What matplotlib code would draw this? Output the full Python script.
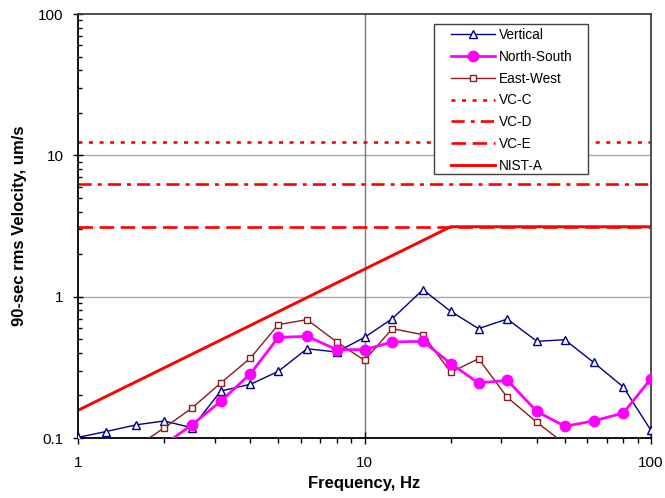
import numpy as np
import matplotlib
matplotlib.use("Agg")
import matplotlib.pyplot as plt
from matplotlib.patches import Rectangle
from matplotlib.ticker import LogLocator, FixedLocator, FixedFormatter, NullFormatter

plt.rcParams['font.family'] = ['Liberation Sans', 'DejaVu Sans']

freq = [1, 1.25, 1.6, 2, 2.5, 3.15, 4, 5, 6.3, 8, 10, 12.5, 16, 20, 25, 31.5, 40, 50, 63, 80, 100]
vertical = [0.101, 0.111, 0.124, 0.132, 0.118, 0.215, 0.24, 0.296, 0.428, 0.406, 0.515,
            0.699, 1.12, 0.787, 0.594, 0.695, 0.483, 0.496, 0.343, 0.23, 0.113]
north_south = [np.nan, np.nan, np.nan, 0.09, 0.124, 0.182, 0.285, 0.515, 0.524, 0.422, 0.422,
               0.478, 0.483, 0.336, 0.245, 0.256, 0.154, 0.121, 0.132, 0.150, 0.263]
east_west = [np.nan, np.nan, 0.087, 0.118, 0.163, 0.245, 0.368, 0.634, 0.688, 0.478, 0.354,
             0.594, 0.538, 0.291, 0.364, 0.194, 0.129, 0.091, np.nan, np.nan, np.nan]
vc_c = 12.5
vc_d = 6.25
vc_e = 3.125
nist_f = [1, 20, 100]
nist_v = [0.157, 3.125, 3.125]
x_ticks = [1, 10, 100]
x_tick_labels = ['1', '10', '100']
y_ticks = [0.1, 1, 10, 100]
y_tick_labels = ['0.1', '1', '10', '100']

W, H = 665, 498
fig = plt.figure(figsize=(W/100, H/100), dpi=100)
L, R, T, B = 78, 651, 14, 438
ax = fig.add_axes([L/W, 1-B/H, (R-L)/W, (B-T)/H])
ax.set_xscale('log')
ax.set_yscale('log')
ax.set_xlim(1, 100)
ax.set_ylim(0.1, 100)

# grid
for yv in [1, 10]:
    ax.axhline(yv, color='#a6a6a6', lw=1.0, zorder=0.5)
ax.axvline(10, color='#7a7a7a', lw=1.0, zorder=0.5)

ax.plot(freq, vertical, color='#000080', lw=1.0, marker='^', ms=6,
        mfc='white', mec='#000080', mew=1.0, label='Vertical', zorder=3)
ax.plot(freq, north_south, color='#FF00FF', lw=2.0, marker='o', ms=7.5,
        mfc='#FF00FF', mec='#FF00FF', label='North-South', zorder=4)
ax.plot(freq, east_west, color='#8B1A1A', lw=1.0, marker='s', ms=4.8,
        mfc='white', mec='#8B1A1A', mew=1.0, label='East-West', zorder=3)
ax.axhline(vc_c, color='#FF0000', lw=1.9, ls=(0, (1.5, 2.5)), label='VC-C', zorder=2)
ax.axhline(vc_d, color='#FF0000', lw=1.9, ls=(0, (5, 2.3, 1.5, 2.3)), label='VC-D', zorder=2)
ax.axhline(vc_e, color='#FF0000', lw=1.9, ls=(0, (5.5, 2.5)), label='VC-E', zorder=2)
ax.plot(nist_f, nist_v, color='#FF0000', lw=2.1, label='NIST-A', zorder=2)

ax.xaxis.set_major_locator(FixedLocator(x_ticks))
ax.xaxis.set_major_formatter(FixedFormatter(x_tick_labels))
ax.xaxis.set_minor_locator(LogLocator(base=10, subs=np.arange(2, 10)))
ax.xaxis.set_minor_formatter(NullFormatter())
ax.yaxis.set_major_locator(FixedLocator(y_ticks))
ax.yaxis.set_major_formatter(FixedFormatter(y_tick_labels))
ax.yaxis.set_minor_locator(LogLocator(base=10, subs=np.arange(2, 10)))
ax.yaxis.set_minor_formatter(NullFormatter())

ax.tick_params(axis='x', which='major', direction='inout', length=8, width=1.0, labelsize=11, pad=9)
ax.tick_params(axis='x', which='minor', direction='out', length=3.5, width=1.0)
ax.tick_params(axis='y', which='major', direction='inout', length=7, width=1.0, labelsize=11, pad=7)
ax.tick_params(axis='y', which='minor', direction='in', length=3, width=1.0)

for s in ['left', 'bottom']:
    ax.spines[s].set_color('black')
    ax.spines[s].set_linewidth(1.3)
for s in ['right', 'top']:
    ax.spines[s].set_color('#404040')
    ax.spines[s].set_linewidth(1.3)

ax.set_xlabel('Frequency, Hz', fontsize=12, fontweight='bold', labelpad=4.5)
ax.set_ylabel('90-sec rms Velocity, um/s', fontsize=12, fontweight='bold', labelpad=8)

# legend box (manual frame)
bx0, by0, bx1, by1 = 434, 24, 588, 174
frame = Rectangle((bx0/W, 1-by1/H), (bx1-bx0)/W, (by1-by0)/H, transform=fig.transFigure,
                  facecolor='white', edgecolor='#404040', lw=1.0, zorder=5)
ax.add_artist(frame)
frame.set_clip_on(False)
fs = 9.8
leg = ax.legend(loc='upper left', bbox_to_anchor=(451/W, 1-28/H), bbox_transform=fig.transFigure,
                fontsize=fs, frameon=False, borderpad=0, labelspacing=0.57,
                handlelength=3.25, handletextpad=0.3, borderaxespad=0)
leg.set_zorder(6)

fig.savefig('out.png', dpi=100)
